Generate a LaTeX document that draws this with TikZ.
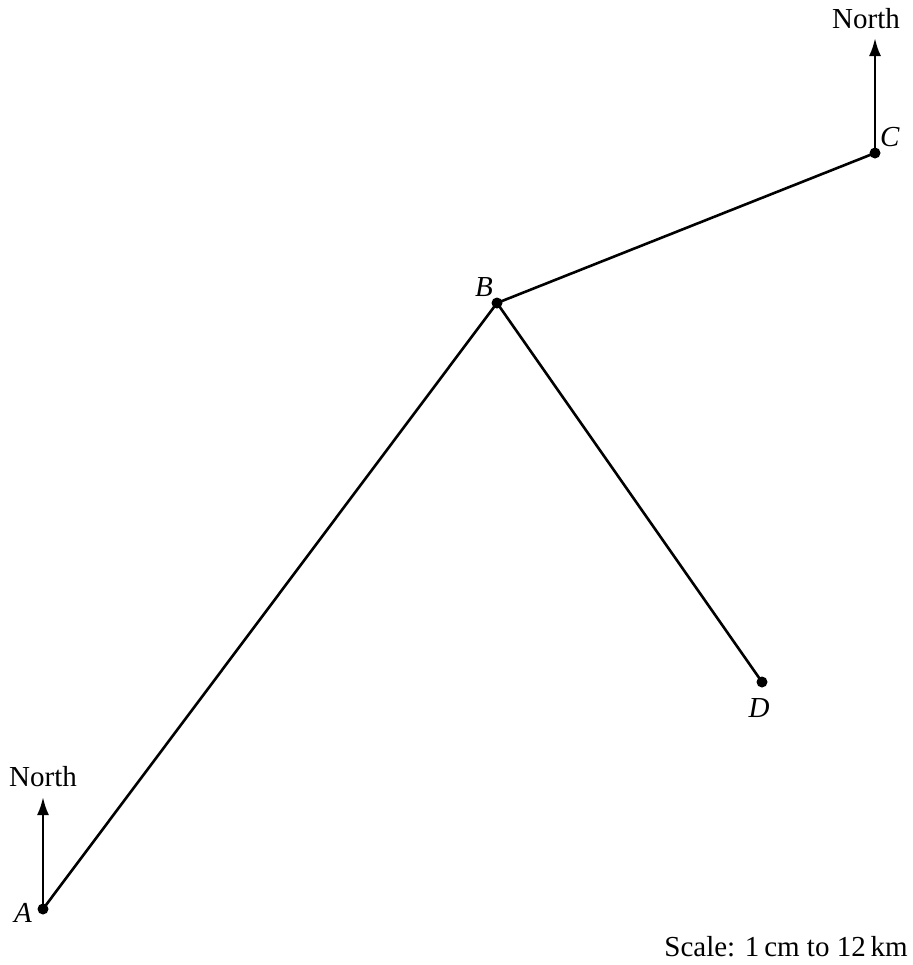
\documentclass[tikz,border=0pt]{standalone}
\usepackage{fontspec}
\setmainfont{Liberation Serif}
\usetikzlibrary{arrows.meta}
\begin{document}
\begin{tikzpicture}[x=0.5pt,y=-0.5pt,font=\fontsize{14.5}{17}\selectfont]
  \useasboundingbox (0,0) rectangle (912,965);
  \tikzset{leg/.style={line width=1.3pt},
    pt/.style={circle,fill=black,inner sep=0pt,minimum size=5.5pt},
    north/.style={line width=1.3pt,-{Latex[length=9pt,width=6pt]}}}
  % points
  \node [pt] (A) at (43,909) {};
  \node [pt] (B) at (497,303) {};
  \node [pt] (C) at (875,153) {};
  \node [pt] (D) at (762,682) {};
  \node at (23,913) {\textit{A}};
  \node at (484,287) {\textit{B}};
  \node at (890,137) {\textit{C}};
  \node at (759,708) {\textit{D}};
  % legs
  \draw [leg] (A.center) -- (B.center) -- (C.center);
  \draw [leg] (B.center) -- (D.center);
  % north arrows
  \coordinate (NA) at (43,797);
  \coordinate (NC) at (875,38);
  \draw [north] (A.center) -- (NA);
  \draw [north] (C.center) -- (NC);
  \node (northA) at (43,777) {North};
  \node (northC) at (866,19) {North};
  \node (scale) at (786,947) {Scale: 1\,cm to 12\,km};
\end{tikzpicture}
\end{document}
